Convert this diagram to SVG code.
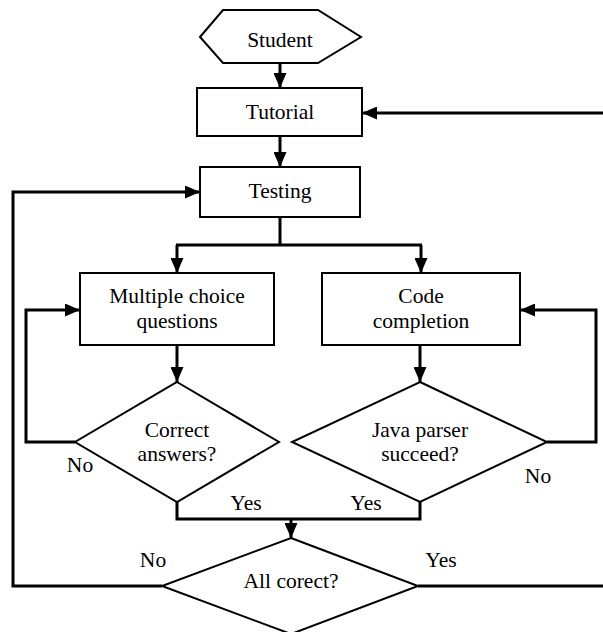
<svg xmlns="http://www.w3.org/2000/svg" width="603" height="632" viewBox="0 0 603 632">
<style>
.shape{fill:#fff;stroke:#000;stroke-width:2}
.conn{fill:none;stroke:#000;stroke-width:3}
text{font-family:"Liberation Serif","Times New Roman",serif;font-size:21.5px;fill:#000;text-anchor:middle}
</style>
<defs>
<marker id="arr" viewBox="0 0 15 13" refX="15" refY="6.5" markerWidth="15" markerHeight="13" markerUnits="userSpaceOnUse" orient="auto">
<path d="M0,0 L15,6.5 L0,13 z" fill="#000"/>
</marker>
</defs>
<g id="connectors">
<path class="conn" d="M280,63 V88" marker-end="url(#arr)"/>
<path class="conn" d="M603,113 H362" marker-end="url(#arr)"/>
<path class="conn" d="M280,136 V167" marker-end="url(#arr)"/>
<path class="conn" d="M280,217 V245 M176,245 H422"/>
<path class="conn" d="M177,245 V273" marker-end="url(#arr)"/>
<path class="conn" d="M421,245 V273" marker-end="url(#arr)"/>
<path class="conn" d="M177,345 V382" marker-end="url(#arr)"/>
<path class="conn" d="M420,345 V382" marker-end="url(#arr)"/>
<path class="conn" d="M75,442 H26 V310 H80" marker-end="url(#arr)"/>
<path class="conn" d="M547,442 H596 V310 H520" marker-end="url(#arr)"/>
<path class="conn" d="M177,502 V519 H420 V502"/>
<path class="conn" d="M291,519 V538" marker-end="url(#arr)"/>
<path class="conn" d="M162,586 H13 V192 H200" marker-end="url(#arr)"/>
<path class="conn" d="M418,586 H603"/>
</g>
<g id="student">
<polygon class="shape" points="200,37 223,10 318,10 361,37 318,63 223,63"/>
<text x="280" y="47">Student</text>
</g>
<g id="tutorial">
<rect class="shape" x="197" y="88" width="165" height="48"/>
<text x="280" y="119">Tutorial</text>
</g>
<g id="testing">
<rect class="shape" x="200" y="167" width="160" height="50"/>
<text x="280" y="198">Testing</text>
</g>
<g id="mcq">
<rect class="shape" x="80" y="273" width="194" height="72"/>
<text x="177" y="303">Multiple choice</text>
<text x="177" y="328">questions</text>
</g>
<g id="code">
<rect class="shape" x="322" y="273" width="198" height="72"/>
<text x="421" y="303">Code</text>
<text x="421" y="328">completion</text>
</g>
<g id="correct">
<polygon class="shape" points="177,382 279,442 177,502 75,442"/>
<text x="177" y="437">Correct</text>
<text x="177" y="461">answers?</text>
</g>
<g id="parser">
<polygon class="shape" points="420,382 547,442 420,502 292,442"/>
<text x="420" y="437">Java parser</text>
<text x="420" y="461">succeed?</text>
</g>
<g id="allcorrect">
<polygon class="shape" points="291,538 418,586 291,634 162,586"/>
<text x="291" y="588">All corect?</text>
</g>
<g id="labels">
<text x="80" y="472">No</text>
<text x="538" y="483">No</text>
<text x="246" y="510">Yes</text>
<text x="366" y="510">Yes</text>
<text x="153" y="567">No</text>
<text x="441" y="567">Yes</text>
</g>
</svg>
